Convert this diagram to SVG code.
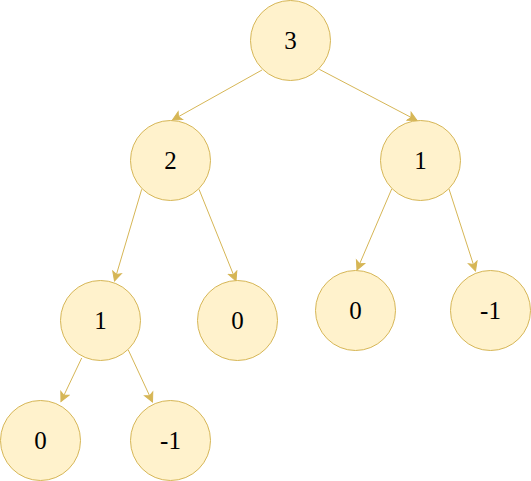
<svg xmlns="http://www.w3.org/2000/svg" width="531" height="481" viewBox="0 0 531 481">
<style>
.n{fill:#fff2cc;stroke:#d6b656;stroke-width:1}
.t{font-family:'Liberation Serif','Times New Roman',Times,'DejaVu Serif',serif;font-size:25px;fill:#000;text-anchor:middle}
.e{stroke:#d6b656;stroke-width:1;fill:none;marker-end:url(#arr)}
</style>
<defs>
<marker id="arr" markerUnits="userSpaceOnUse" markerWidth="12" markerHeight="12" viewBox="-1 -6 12 12" refX="9" refY="0" orient="auto">
<path d="M0,-4.5 L9,0 L0,4.5 L2.2,0 Z" fill="#d6b656" stroke="#d6b656" stroke-width="1"/>
</marker>
</defs>
<g id="connectors">
<line class="e" x1="262" y1="70" x2="172.5" y2="120"/>
<line class="e" x1="319.3" y1="69.3" x2="417" y2="120.5"/>
<line class="e" x1="141.7" y1="189.3" x2="114.5" y2="281"/>
<line class="e" x1="199" y1="189.3" x2="236" y2="281"/>
<line class="e" x1="391.7" y1="189" x2="357" y2="270"/>
<line class="e" x1="449" y1="189" x2="475.5" y2="271"/>
<line class="e" x1="81.7" y1="358" x2="61" y2="401.5"/>
<line class="e" x1="128.3" y1="350" x2="152.5" y2="402"/>
</g>
<g id="n3"><circle class="n" cx="290.5" cy="40.5" r="40"/><text class="t" x="290.5" y="49">3</text></g>
<g id="n2"><circle class="n" cx="170.5" cy="160.5" r="40"/><text class="t" x="170.5" y="169">2</text></g>
<g id="n1r"><circle class="n" cx="420.5" cy="160.5" r="40"/><text class="t" x="420.5" y="169">1</text></g>
<g id="n1l"><circle class="n" cx="100.5" cy="320.5" r="40"/><text class="t" x="100.5" y="329">1</text></g>
<g id="n0m"><circle class="n" cx="237.5" cy="320.5" r="40"/><text class="t" x="237.5" y="329">0</text></g>
<g id="n0r"><circle class="n" cx="355.5" cy="310.5" r="40"/><text class="t" x="355.5" y="319">0</text></g>
<g id="nm1r"><circle class="n" cx="490.5" cy="310.5" r="40"/><text class="t" x="490.5" y="319">-1</text></g>
<g id="n0b"><circle class="n" cx="40.5" cy="440.5" r="40"/><text class="t" x="40.5" y="449">0</text></g>
<g id="nm1b"><circle class="n" cx="170.5" cy="440.5" r="40"/><text class="t" x="170.5" y="449">-1</text></g>
</svg>
